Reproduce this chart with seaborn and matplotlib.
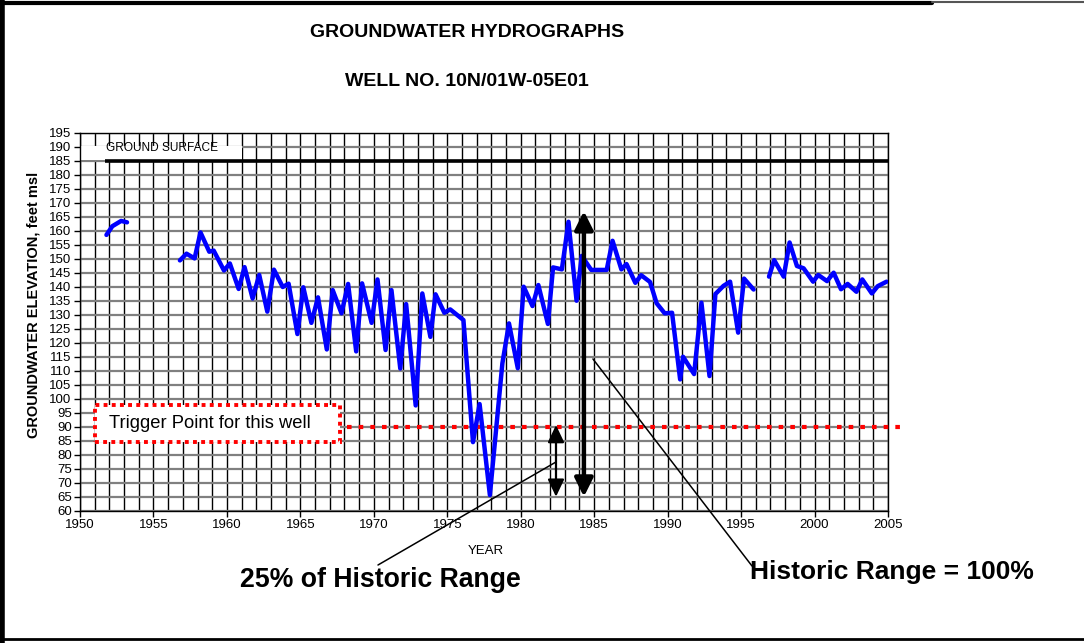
import numpy as np
import pandas as pd
import matplotlib
matplotlib.use("Agg")
import matplotlib.pyplot as plt
import seaborn as sns
from matplotlib.patches import Rectangle, FancyArrowPatch
from matplotlib.lines import Line2D
from matplotlib.ticker import MultipleLocator

# Water level readings (decimal year, feet msl), three periods of record
years_1 = [1951.8, 1952.2, 1952.8, 1953.2]
elev_1 = [158.5, 161.6, 163.5, 163.0]

years_2 = [1956.8, 1957.25, 1957.8, 1958.2, 1958.8, 1959.1, 1959.8, 1960.2, 1960.8, 1961.2,
           1961.75, 1962.2, 1962.75, 1963.2, 1963.8, 1964.2, 1964.8, 1965.2, 1965.75, 1966.2,
           1966.8, 1967.2, 1967.8, 1968.25, 1968.8, 1969.2, 1969.85, 1970.25, 1970.8, 1971.2,
           1971.8, 1972.2, 1972.85, 1973.3, 1973.85, 1974.2, 1974.8, 1975.2, 1976.1, 1976.75,
           1977.2, 1977.9, 1978.75, 1979.2, 1979.8, 1980.2, 1980.8, 1981.2, 1981.85, 1982.2,
           1982.8, 1983.25, 1983.8, 1984.15, 1984.8, 1985.3, 1985.85, 1986.25, 1986.85, 1987.2,
           1987.8, 1988.2, 1988.8, 1989.25, 1989.8, 1990.3, 1990.85, 1991.05, 1991.8, 1992.3,
           1992.85, 1993.25, 1993.8, 1994.25, 1994.8, 1995.2, 1995.85]
elev_2 = [149.4, 151.8, 150.1, 159.4, 152.5, 152.9, 145.8, 148.3, 139.2, 147.0,
          135.8, 144.2, 131.1, 146.1, 139.9, 141.1, 123.1, 139.8, 127.1, 136.2,
          117.6, 138.8, 130.5, 141.0, 116.9, 141.2, 127.1, 142.6, 117.4, 138.8,
          110.8, 133.8, 97.6, 137.6, 122.1, 137.3, 130.7, 131.9, 128.1, 84.5,
          98.1, 65.6, 112.6, 126.9, 110.9, 140.0, 133.1, 140.6, 126.7, 146.9,
          146.2, 163.2, 135.0, 151.0, 146.0, 146.0, 146.0, 156.4, 146.2, 148.1,
          141.4, 144.1, 141.7, 134.1, 130.5, 130.7, 106.9, 115.0, 108.8, 134.3,
          108.1, 137.4, 140.3, 141.8, 123.6, 142.9, 139.0]

years_3 = [1996.9, 1997.25, 1997.9, 1998.3, 1998.8, 1999.25, 1999.9, 2000.25, 2000.85,
           2001.3, 2001.8, 2002.25, 2002.85, 2003.25, 2003.9, 2004.3, 2004.9]
elev_3 = [143.6, 149.5, 143.6, 155.8, 147.4, 146.6, 141.8, 144.2, 142.0,
          145.0, 139.1, 141.0, 138.2, 142.6, 137.6, 140.2, 141.8]

ground_surface = 185
trigger_point = 90
hist_low = 65
hist_high = 167
trigger_low = 65

df = pd.concat([
    pd.DataFrame({'year': years_1, 'elev': elev_1, 'seg': 1}),
    pd.DataFrame({'year': years_2, 'elev': elev_2, 'seg': 2}),
    pd.DataFrame({'year': years_3, 'elev': elev_3, 'seg': 3}),
])

sns.set_style("white")
plt.rcParams['font.family'] = ['Liberation Sans', 'DejaVu Sans']
plt.rcParams['text.color'] = 'black'
plt.rcParams['xtick.color'] = 'black'
plt.rcParams['ytick.color'] = 'black'
plt.rcParams['axes.labelcolor'] = 'black'

fig = plt.figure(figsize=(10.84, 6.43), dpi=100)
ax = fig.add_axes([0.0738, 0.2057, 0.7454, 0.5879])

sns.lineplot(data=df, x='year', y='elev', units='seg', estimator=None,
             color='#0000ff', linewidth=3.2, legend=False, ax=ax, zorder=4)

ax.set_xlim(1950, 2005)
ax.set_ylim(60, 195)
ax.xaxis.set_major_locator(MultipleLocator(5))
ax.xaxis.set_minor_locator(MultipleLocator(1))
ax.yaxis.set_major_locator(MultipleLocator(5))
ax.set_axisbelow(True)
ax.grid(which='both', axis='x', color='black', linewidth=1.0)
ax.grid(which='major', axis='y', color='#808080', linewidth=1.6)
ax.tick_params(axis='both', which='major', direction='out', length=4, width=1,
               labelsize=9.5, labelcolor='black', color='black', left=True, bottom=True, pad=2)
ax.tick_params(axis='x', which='minor', length=0)
for s in ax.spines.values():
    s.set_color('black')
    s.set_linewidth(1.0)
ax.set_xlabel('')
ax.set_ylabel('')

# ground surface label box and line
ax.add_patch(Rectangle((1950, 185.3), 11.0, 5.1, facecolor='white', edgecolor='none', zorder=1))
ax.text(1951.8, 189.4, 'GROUND SURFACE', fontsize=8.6, va='center', ha='left', zorder=3)
ax.plot([1951.7, 2005], [ground_surface, ground_surface], color='black', linewidth=2.6, zorder=3,
        solid_capstyle='butt')

# trigger point box and line
ax.add_patch(Rectangle((1951.0, 84.5), 16.7, 13.25, facecolor='white', edgecolor='red',
                       linewidth=2.8, linestyle=(0, (1, 1.1)), zorder=3))
ax.text(1952.0, 91.3, 'Trigger Point for this well', fontsize=13.2, va='center', ha='left',
        zorder=4)
ax.plot([1968.2, 2006.3], [trigger_point, trigger_point], color='red', linewidth=3.0,
        linestyle=(0, (1.1, 1.7)), zorder=3, clip_on=False)

# range arrows
ax.add_patch(FancyArrowPatch((1982.4, trigger_low), (1982.4, trigger_point + 0.6),
                             arrowstyle='<|-|>,head_length=1.05,head_width=0.5', mutation_scale=10,
                             color='black', linewidth=1.6, shrinkA=0, shrinkB=0, zorder=5))
ax.add_patch(FancyArrowPatch((1984.3, hist_low), (1984.3, hist_high),
                             arrowstyle='<|-|>,head_length=1.1,head_width=0.55', mutation_scale=10,
                             color='black', linewidth=3.2, shrinkA=0, shrinkB=0, zorder=5))

# leader lines and callouts
fig.add_artist(Line2D([0.5129, 0.3487], [0.2815, 0.1213], color='black', linewidth=1.1))
fig.add_artist(Line2D([0.5470, 0.6937], [0.4417, 0.1198], color='black', linewidth=1.1))
fig.text(0.2214, 0.098, '25% of Historic Range', fontsize=19.2, fontweight='bold', va='center')
fig.text(0.6919, 0.1104, 'Historic Range = 100%', fontsize=19.0, fontweight='bold', va='center')

# titles and axis labels
fig.text(0.4308, 0.9487, 'GROUNDWATER HYDROGRAPHS', fontsize=14, fontweight='bold',
         ha='center', va='center')
fig.text(0.4308, 0.8725, 'WELL NO. 10N/01W-05E01', fontsize=14, fontweight='bold',
         ha='center', va='center')
fig.text(0.4483, 0.1431, 'YEAR', fontsize=9.5, ha='center', va='center')
fig.text(0.031, 0.5257, 'GROUNDWATER ELEVATION, feet msl', fontsize=10.5, fontweight='bold',
         rotation=90, ha='center', va='center')

# page border
fig.add_artist(Line2D([0.002, 0.002], [0.0, 1.0], color='black', linewidth=4))
fig.add_artist(Line2D([0.0, 0.86], [0.996, 0.996], color='black', linewidth=3))
fig.add_artist(Line2D([0.86, 1.0], [0.997, 0.997], color='#555555', linewidth=1.5))
fig.add_artist(Line2D([0.0, 1.0], [0.006, 0.006], color='black', linewidth=2))

fig.savefig('out.png', dpi=100)
